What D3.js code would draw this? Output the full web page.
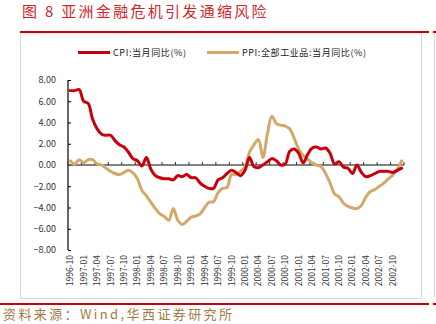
<!DOCTYPE html>
<html><head><meta charset="utf-8">
<script src="https://cdn.jsdelivr.net/npm/d3@7"></script>
<style>
html,body{margin:0;padding:0;background:#fff;}
svg{display:block;}
text{font-family:"Noto Sans CJK SC","Noto Sans",sans-serif;}
</style></head>
<body>
<svg id="c" width="436" height="324"></svg>
<script>
const months = [
"1996-10","1996-11","1996-12",
"1997-01","1997-02","1997-03","1997-04","1997-05","1997-06","1997-07","1997-08","1997-09","1997-10","1997-11","1997-12",
"1998-01","1998-02","1998-03","1998-04","1998-05","1998-06","1998-07","1998-08","1998-09","1998-10","1998-11","1998-12",
"1999-01","1999-02","1999-03","1999-04","1999-05","1999-06","1999-07","1999-08","1999-09","1999-10","1999-11","1999-12",
"2000-01","2000-02","2000-03","2000-04","2000-05","2000-06","2000-07","2000-08","2000-09","2000-10","2000-11","2000-12",
"2001-01","2001-02","2001-03","2001-04","2001-05","2001-06","2001-07","2001-08","2001-09","2001-10","2001-11","2001-12",
"2002-01","2002-02","2002-03","2002-04","2002-05","2002-06","2002-07","2002-08","2002-09","2002-10","2002-11","2002-12"];
const cpi = [7.0,7.0,7.1,6.0,5.8,4.3,3.4,2.9,2.8,2.8,2.3,1.9,1.7,1.2,0.6,0.4,-0.1,0.7,-0.4,-1.0,-1.2,-1.3,-1.3,-1.4,-1.0,-1.1,-0.9,-1.2,-1.2,-1.7,-2.0,-2.2,-2.2,-1.4,-1.2,-0.8,-0.5,-0.7,-1.0,-0.5,0.7,-0.15,-0.25,0.0,0.3,0.6,0.4,0.0,0.1,1.3,1.5,1.1,0.2,1.0,1.6,1.7,1.5,1.6,1.1,0.1,0.3,-0.2,-0.3,-0.8,0.0,-0.7,-1.1,-1.0,-0.8,-0.6,-0.6,-0.6,-0.7,-0.5,-0.3];
const ppi = [0.4,0.1,0.5,0.2,0.5,0.5,0.1,0.0,-0.3,-0.6,-0.8,-0.9,-0.7,-0.5,-0.75,-1.3,-2.4,-2.9,-3.5,-4.1,-4.6,-4.85,-5.2,-4.1,-5.2,-5.6,-5.3,-4.9,-4.8,-4.6,-4.0,-3.5,-3.45,-2.6,-2.2,-2.1,-0.9,-0.9,-0.6,-0.2,1.2,1.9,2.4,0.7,2.9,4.6,3.9,3.75,3.65,3.4,2.5,1.5,0.9,0.55,0.2,0.0,-0.15,-0.8,-1.7,-2.7,-3.0,-3.6,-3.9,-4.05,-4.1,-3.8,-3.0,-2.5,-2.3,-2.0,-1.7,-1.3,-0.95,-0.4,0.4];
const yTicks = [8,6,4,2,0,-2,-4,-6,-8];
const seriesNames = ["CPI:当月同比(%)","PPI:全部工业品:当月同比(%)"];
const titleText = "图 8 亚洲金融危机引发通缩风险";
const sourceText = "资料来源：Wind,华西证券研究所";

const svg = d3.select("#c");
const RED = "#c8000b", TAN = "#d3a96b";

// frame
svg.append("rect").attr("x",20.5).attr("y",33).attr("width",401).attr("height",265.5)
  .attr("fill","none").attr("stroke","#d9d9d9").attr("stroke-width",1);
svg.append("line").attr("x1",434.5).attr("x2",434.5).attr("y1",33).attr("y2",298).attr("stroke","#d9d9d9");
svg.append("line").attr("x1",20).attr("x2",429).attr("y1",32).attr("y2",32).attr("stroke","#c8000b").attr("stroke-width",2);
svg.append("line").attr("x1",433).attr("x2",436).attr("y1",32).attr("y2",32).attr("stroke","#c8000b").attr("stroke-width",2);
svg.append("line").attr("x1",0).attr("x2",429).attr("y1",304).attr("y2",304).attr("stroke","#c8000b").attr("stroke-width",2);
svg.append("line").attr("x1",433).attr("x2",436).attr("y1",304).attr("y2",304).attr("stroke","#c8000b").attr("stroke-width",2);

// title
svg.append("text").attr("x",22).attr("y",17).attr("fill","#d0272a")
  .style("font-size","15px").style("letter-spacing","2.3px").text(titleText);
// source
svg.append("text").attr("x",3).attr("y",319).attr("fill","#a27b3e")
  .style("font-size","13px").style("letter-spacing","2.4px").text(sourceText);

// legend
const leg = [{x:78,c:RED},{x:207,c:TAN}];
leg.forEach((l,i)=>{
  svg.append("line").attr("x1",l.x).attr("x2",l.x+32).attr("y1",52.5).attr("y2",52.5)
    .attr("stroke",l.c).attr("stroke-width",3);
  svg.append("text").attr("x",l.x+35).attr("y",56).attr("fill","#222")
    .style("font-size","9px").style("letter-spacing","0.6px").text(seriesNames[i]);
});

// scales
const x = d3.scaleBand().domain(months).range([68,404]);
const bw = x.bandwidth();
const cx = m => x(m)+bw/2;
const y = d3.scaleLinear().domain([-8,8]).range([250,80]);

// y axis
const yAxis = d3.axisLeft(y).tickValues(yTicks).tickSize(-3).tickPadding(12)
  .tickFormat(d3.format(".2f"));
const gy = svg.append("g").attr("transform","translate(68,0)").call(yAxis);
gy.select(".domain").attr("stroke","#000").attr("stroke-width",1.2).attr("d","M0,80V250");
gy.selectAll(".tick line").attr("stroke","#000");
gy.selectAll(".tick text").attr("fill","#333").style("font-size","9px")
  .style("font-family","'Noto Sans CJK SC',sans-serif");

// zero axis line
svg.append("line").attr("x1",68).attr("x2",404).attr("y1",y(0)).attr("y2",y(0))
  .attr("stroke","#595959").attr("stroke-width",1.5);
const tickIdx = months.map((m,i)=>i).filter(i=>i%3===0);
svg.selectAll(".xt").data(tickIdx.concat([75])).enter().append("line")
  .attr("x1",i=>i<75?x(months[i]):404).attr("x2",i=>i<75?x(months[i]):404)
  .attr("y1",y(0)-3).attr("y2",y(0)).attr("stroke","#333").attr("stroke-width",1);

// x labels
svg.selectAll(".xl").data(tickIdx).enter().append("text")
  .attr("transform",i=>`translate(${cx(months[i])+3},255) rotate(-90)`)
  .attr("text-anchor","end").attr("fill","#333").style("font-size","8.5px")
  .text(i=>months[i]);

// lines
const line = d3.line().x((d,i)=>cx(months[i])).y(d=>y(d)).curve(d3.curveCatmullRom.alpha(0.5));
svg.append("path").datum(ppi).attr("d",line).attr("fill","none").attr("stroke",TAN)
  .attr("stroke-width",3).attr("stroke-linejoin","round").attr("stroke-linecap","round");
svg.append("path").datum(cpi).attr("d",line).attr("fill","none").attr("stroke",RED)
  .attr("stroke-width",3).attr("stroke-linejoin","round").attr("stroke-linecap","round");
</script>
</body></html>
